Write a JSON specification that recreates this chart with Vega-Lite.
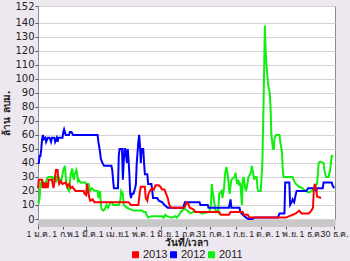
{
"$schema": "https://vega.github.io/schema/vega-lite/v6.json",
"width": 297, "height": 213,
"autosize": {"type": "none"},
"padding": {"left": 38, "top": 6, "right": 15, "bottom": 42},
"background": "#EDE8EF",
"config": {"view": {"fill": "white", "stroke": "#8a8a8a", "strokeWidth": 1}, "font": "DejaVu Sans"},
"datasets": {
"s2012": [
{"date":"2013-01-01","value":40},{"date":"2013-01-02","value":40},{"date":"2013-01-03","value":45},{"date":"2013-01-04","value":45},{"date":"2013-01-05","value":50},{"date":"2013-01-06","value":57},{"date":"2013-01-07","value":60},{"date":"2013-01-08","value":57},{"date":"2013-01-10","value":58},{"date":"2013-01-11","value":55},{"date":"2013-01-13","value":58},{"date":"2013-01-15","value":58},{"date":"2013-01-17","value":55},{"date":"2013-01-18","value":58},{"date":"2013-01-21","value":58},{"date":"2013-01-22","value":55},{"date":"2013-01-24","value":58},{"date":"2013-01-25","value":55},{"date":"2013-01-26","value":58},{"date":"2013-01-31","value":58},{"date":"2013-02-01","value":62},{"date":"2013-02-02","value":64},{"date":"2013-02-04","value":60},{"date":"2013-02-08","value":60},{"date":"2013-02-09","value":62},{"date":"2013-02-11","value":62},{"date":"2013-02-13","value":60},{"date":"2013-03-15","value":60},{"date":"2013-03-16","value":55},{"date":"2013-03-18","value":48},{"date":"2013-03-19","value":43},{"date":"2013-03-21","value":40},{"date":"2013-03-23","value":38},{"date":"2013-04-01","value":38},{"date":"2013-04-02","value":35},{"date":"2013-04-03","value":28},{"date":"2013-04-04","value":22},{"date":"2013-04-09","value":22},{"date":"2013-04-10","value":45},{"date":"2013-04-11","value":50},{"date":"2013-04-14","value":50},{"date":"2013-04-15","value":28},{"date":"2013-04-16","value":40},{"date":"2013-04-17","value":50},{"date":"2013-04-18","value":50},{"date":"2013-04-20","value":40},{"date":"2013-04-21","value":50},{"date":"2013-04-22","value":42},{"date":"2013-04-23","value":32},{"date":"2013-04-24","value":18},{"date":"2013-04-25","value":15},{"date":"2013-04-26","value":18},{"date":"2013-04-28","value":18},{"date":"2013-04-30","value":22},{"date":"2013-05-01","value":25},{"date":"2013-05-02","value":40},{"date":"2013-05-04","value":55},{"date":"2013-05-05","value":60},{"date":"2013-05-06","value":52},{"date":"2013-05-07","value":40},{"date":"2013-05-08","value":50},{"date":"2013-05-10","value":50},{"date":"2013-05-11","value":40},{"date":"2013-05-12","value":32},{"date":"2013-05-15","value":32},{"date":"2013-05-16","value":25},{"date":"2013-05-20","value":25},{"date":"2013-05-21","value":20},{"date":"2013-05-22","value":15},{"date":"2013-05-27","value":15},{"date":"2013-05-29","value":13},{"date":"2013-06-02","value":12},{"date":"2013-06-05","value":10},{"date":"2013-06-09","value":8},{"date":"2013-06-28","value":8},{"date":"2013-06-30","value":12},{"date":"2013-07-18","value":12},{"date":"2013-07-19","value":10},{"date":"2013-07-28","value":10},{"date":"2013-07-29","value":8},{"date":"2013-08-23","value":8},{"date":"2013-08-25","value":14},{"date":"2013-08-26","value":8},{"date":"2013-09-05","value":8},{"date":"2013-09-06","value":5},{"date":"2013-09-09","value":3},{"date":"2013-09-13","value":1},{"date":"2013-09-16","value":0},{"date":"2013-09-21","value":0},{"date":"2013-09-23","value":1},{"date":"2013-10-22","value":1},{"date":"2013-10-24","value":4},{"date":"2013-10-30","value":4},{"date":"2013-10-31","value":26},{"date":"2013-11-05","value":26},{"date":"2013-11-06","value":10},{"date":"2013-11-08","value":12},{"date":"2013-11-09","value":14},{"date":"2013-11-11","value":12},{"date":"2013-11-13","value":18},{"date":"2013-11-14","value":20},{"date":"2013-11-26","value":20},{"date":"2013-11-28","value":22},{"date":"2013-12-06","value":22},{"date":"2013-12-08","value":20},{"date":"2013-12-09","value":22},{"date":"2013-12-16","value":22},{"date":"2013-12-17","value":26},{"date":"2013-12-27","value":26},{"date":"2013-12-28","value":24},{"date":"2013-12-30","value":22}
],
"s2013": [
{"date":"2013-01-01","value":22},{"date":"2013-01-02","value":28},{"date":"2013-01-06","value":28},{"date":"2013-01-07","value":22},{"date":"2013-01-09","value":26},{"date":"2013-01-10","value":22},{"date":"2013-01-12","value":26},{"date":"2013-01-13","value":22},{"date":"2013-01-14","value":28},{"date":"2013-01-18","value":28},{"date":"2013-01-20","value":22},{"date":"2013-01-22","value":30},{"date":"2013-01-23","value":35},{"date":"2013-01-25","value":35},{"date":"2013-01-26","value":28},{"date":"2013-01-27","value":25},{"date":"2013-01-29","value":27},{"date":"2013-01-31","value":25},{"date":"2013-02-04","value":26},{"date":"2013-02-06","value":23},{"date":"2013-02-08","value":25},{"date":"2013-02-10","value":22},{"date":"2013-02-12","value":23},{"date":"2013-02-16","value":20},{"date":"2013-02-26","value":20},{"date":"2013-02-27","value":18},{"date":"2013-03-01","value":17},{"date":"2013-03-02","value":25},{"date":"2013-03-04","value":18},{"date":"2013-03-05","value":15},{"date":"2013-03-06","value":13},{"date":"2013-03-09","value":14},{"date":"2013-03-11","value":12},{"date":"2013-04-22","value":12},{"date":"2013-04-25","value":10},{"date":"2013-05-04","value":10},{"date":"2013-05-06","value":20},{"date":"2013-05-07","value":23},{"date":"2013-05-12","value":23},{"date":"2013-05-13","value":15},{"date":"2013-05-15","value":13},{"date":"2013-05-16","value":17},{"date":"2013-05-18","value":20},{"date":"2013-05-21","value":22},{"date":"2013-05-23","value":21},{"date":"2013-05-25","value":24},{"date":"2013-05-29","value":24},{"date":"2013-05-31","value":23},{"date":"2013-06-02","value":21},{"date":"2013-06-05","value":21},{"date":"2013-06-07","value":18},{"date":"2013-06-09","value":15},{"date":"2013-06-11","value":10},{"date":"2013-06-13","value":8},{"date":"2013-06-29","value":8},{"date":"2013-07-01","value":10},{"date":"2013-07-02","value":12},{"date":"2013-07-04","value":11},{"date":"2013-07-06","value":8},{"date":"2013-07-10","value":7},{"date":"2013-07-13","value":5},{"date":"2013-08-11","value":5},{"date":"2013-08-13","value":3},{"date":"2013-08-23","value":3},{"date":"2013-08-25","value":5},{"date":"2013-09-09","value":5},{"date":"2013-09-10","value":3},{"date":"2013-09-15","value":3},{"date":"2013-09-17","value":1},{"date":"2013-11-01","value":1},{"date":"2013-11-05","value":2},{"date":"2013-11-09","value":3},{"date":"2013-11-13","value":4},{"date":"2013-11-17","value":6},{"date":"2013-11-20","value":4},{"date":"2013-11-29","value":4},{"date":"2013-12-02","value":6},{"date":"2013-12-04","value":8},{"date":"2013-12-05","value":20},{"date":"2013-12-06","value":25},{"date":"2013-12-08","value":22},{"date":"2013-12-09","value":16},{"date":"2013-12-14","value":15}
],
"s2011": [
{"date":"2013-01-01","value":13},{"date":"2013-01-02","value":12},{"date":"2013-01-03","value":15},{"date":"2013-01-04","value":25},{"date":"2013-01-05","value":24},{"date":"2013-01-06","value":27},{"date":"2013-01-10","value":25},{"date":"2013-01-12","value":29},{"date":"2013-01-14","value":30},{"date":"2013-01-18","value":30},{"date":"2013-01-19","value":28},{"date":"2013-01-21","value":30},{"date":"2013-01-23","value":26},{"date":"2013-01-24","value":30},{"date":"2013-01-26","value":30},{"date":"2013-01-28","value":28},{"date":"2013-01-30","value":28},{"date":"2013-02-01","value":35},{"date":"2013-02-03","value":38},{"date":"2013-02-04","value":30},{"date":"2013-02-05","value":24},{"date":"2013-02-06","value":22},{"date":"2013-02-08","value":20},{"date":"2013-02-09","value":25},{"date":"2013-02-10","value":32},{"date":"2013-02-12","value":36},{"date":"2013-02-13","value":30},{"date":"2013-02-14","value":28},{"date":"2013-02-15","value":32},{"date":"2013-02-17","value":35},{"date":"2013-02-18","value":32},{"date":"2013-02-19","value":27},{"date":"2013-02-20","value":28},{"date":"2013-02-22","value":26},{"date":"2013-02-28","value":26},{"date":"2013-03-01","value":25},{"date":"2013-03-04","value":25},{"date":"2013-03-06","value":20},{"date":"2013-03-08","value":22},{"date":"2013-03-12","value":20},{"date":"2013-03-15","value":20},{"date":"2013-03-16","value":15},{"date":"2013-03-18","value":20},{"date":"2013-03-19","value":10},{"date":"2013-03-20","value":7},{"date":"2013-03-22","value":6},{"date":"2013-03-24","value":7},{"date":"2013-03-26","value":10},{"date":"2013-03-28","value":8},{"date":"2013-03-31","value":12},{"date":"2013-04-02","value":12},{"date":"2013-04-03","value":10},{"date":"2013-04-10","value":10},{"date":"2013-04-12","value":14},{"date":"2013-04-13","value":20},{"date":"2013-04-15","value":18},{"date":"2013-04-16","value":10},{"date":"2013-04-20","value":8},{"date":"2013-04-24","value":7},{"date":"2013-04-28","value":6},{"date":"2013-05-08","value":6},{"date":"2013-05-11","value":5},{"date":"2013-05-13","value":5},{"date":"2013-05-14","value":3},{"date":"2013-05-16","value":1},{"date":"2013-05-20","value":2},{"date":"2013-06-02","value":2},{"date":"2013-06-04","value":1},{"date":"2013-06-06","value":3},{"date":"2013-06-08","value":2},{"date":"2013-06-14","value":1},{"date":"2013-06-18","value":2},{"date":"2013-06-20","value":1},{"date":"2013-06-23","value":3},{"date":"2013-06-25","value":5},{"date":"2013-06-27","value":6},{"date":"2013-06-29","value":9},{"date":"2013-06-30","value":7},{"date":"2013-07-03","value":6},{"date":"2013-07-07","value":4},{"date":"2013-07-10","value":5},{"date":"2013-07-17","value":5},{"date":"2013-07-21","value":4},{"date":"2013-07-30","value":5},{"date":"2013-08-01","value":10},{"date":"2013-08-02","value":25},{"date":"2013-08-03","value":20},{"date":"2013-08-05","value":12},{"date":"2013-08-06","value":8},{"date":"2013-08-07","value":5},{"date":"2013-08-09","value":6},{"date":"2013-08-10","value":5},{"date":"2013-08-11","value":18},{"date":"2013-08-14","value":20},{"date":"2013-08-15","value":15},{"date":"2013-08-17","value":22},{"date":"2013-08-18","value":30},{"date":"2013-08-19","value":35},{"date":"2013-08-20","value":37},{"date":"2013-08-22","value":30},{"date":"2013-08-23","value":22},{"date":"2013-08-24","value":18},{"date":"2013-08-25","value":24},{"date":"2013-08-26","value":28},{"date":"2013-08-30","value":30},{"date":"2013-08-31","value":33},{"date":"2013-09-02","value":25},{"date":"2013-09-03","value":28},{"date":"2013-09-04","value":24},{"date":"2013-09-05","value":26},{"date":"2013-09-06","value":25},{"date":"2013-09-08","value":10},{"date":"2013-09-09","value":28},{"date":"2013-09-10","value":30},{"date":"2013-09-12","value":22},{"date":"2013-09-13","value":20},{"date":"2013-09-14","value":23},{"date":"2013-09-16","value":30},{"date":"2013-09-19","value":33},{"date":"2013-09-20","value":38},{"date":"2013-09-21","value":35},{"date":"2013-09-23","value":28},{"date":"2013-09-24","value":30},{"date":"2013-09-26","value":30},{"date":"2013-09-27","value":22},{"date":"2013-09-28","value":20},{"date":"2013-10-01","value":20},{"date":"2013-10-02","value":30},{"date":"2013-10-03","value":40},{"date":"2013-10-04","value":70},{"date":"2013-10-05","value":100},{"date":"2013-10-06","value":138},{"date":"2013-10-07","value":120},{"date":"2013-10-08","value":110},{"date":"2013-10-10","value":96},{"date":"2013-10-11","value":93},{"date":"2013-10-12","value":90},{"date":"2013-10-13","value":80},{"date":"2013-10-14","value":60},{"date":"2013-10-16","value":50},{"date":"2013-10-17","value":50},{"date":"2013-10-18","value":58},{"date":"2013-10-20","value":60},{"date":"2013-10-24","value":60},{"date":"2013-10-25","value":55},{"date":"2013-10-27","value":48},{"date":"2013-10-28","value":35},{"date":"2013-10-29","value":30},{"date":"2013-11-09","value":30},{"date":"2013-11-11","value":27},{"date":"2013-11-13","value":25},{"date":"2013-11-17","value":23},{"date":"2013-11-21","value":22},{"date":"2013-11-25","value":20},{"date":"2013-11-29","value":19},{"date":"2013-12-03","value":20},{"date":"2013-12-05","value":22},{"date":"2013-12-09","value":25},{"date":"2013-12-11","value":40},{"date":"2013-12-13","value":41},{"date":"2013-12-17","value":40},{"date":"2013-12-18","value":35},{"date":"2013-12-20","value":30},{"date":"2013-12-23","value":30},{"date":"2013-12-25","value":35},{"date":"2013-12-27","value":45},{"date":"2013-12-29","value":45}
]
},
"layer": [
{"data": {"name": "s2011"}, "transform": [{"calculate": "'2011'", "as": "series"}], "mark": {"type": "line", "strokeWidth": 2}, "encoding": {}},
{"data": {"name": "s2012"}, "transform": [{"calculate": "'2012'", "as": "series"}], "mark": {"type": "line", "strokeWidth": 2}, "encoding": {}},
{"data": {"name": "s2013"}, "transform": [{"calculate": "'2013'", "as": "series"}], "mark": {"type": "line", "strokeWidth": 2}, "encoding": {}}
],
"encoding": {
"x": {"field": "date", "type": "temporal",
 "scale": {"type": "utc", "domain": [{"year": 2013, "month": 1, "date": 1, "utc": true}, {"year": 2013, "month": 12, "date": 31, "utc": true}]},
 "axis": {"title": "วันที่/เวลา", "titleFontSize": 10, "titleFontWeight": "bold", "titleColor": "#222", "titlePadding": 0,
  "values": [{"year":2013,"month":1,"date":1,"utc":true},{"year":2013,"month":2,"date":1,"utc":true},{"year":2013,"month":3,"date":1,"utc":true},{"year":2013,"month":4,"date":1,"utc":true},{"year":2013,"month":5,"date":1,"utc":true},{"year":2013,"month":6,"date":1,"utc":true},{"year":2013,"month":7,"date":1,"utc":true},{"year":2013,"month":7,"date":31,"utc":true},{"year":2013,"month":9,"date":1,"utc":true},{"year":2013,"month":10,"date":1,"utc":true},{"year":2013,"month":11,"date":1,"utc":true},{"year":2013,"month":12,"date":1,"utc":true},{"year":2013,"month":12,"date":30,"utc":true}],
  "labelExpr": "utcdate(datum.value) + ' ' + ['ม.ค.','ก.พ.','มี.ค.','เม.ย.','พ.ค.','มิ.ย.','ก.ค.','ส.ค.','ก.ย.','ต.ค.','พ.ย.','ธ.ค.'][utcmonth(datum.value)]",
  "labelOverlap": false, "labelFlush": false, "labelFont": "Liberation Sans", "labelFontSize": 8.8, "labelColor": "#222", "labelPadding": 0,
  "grid": false, "offset": 4, "domainWidth": 7, "domainColor": "#c8c8c8", "tickColor": "#555", "tickSize": 6}},
"y": {"field": "value", "type": "quantitative",
 "scale": {"domain": [0, 152], "nice": false},
 "axis": {"title": "ล้าน ลบม.", "titleFontSize": 10, "titleFontWeight": "bold", "titleColor": "#222", "titlePadding": 3,
  "values": [0,10,20,30,40,50,60,70,80,90,100,110,120,130,140,152],
  "labelFontSize": 10, "labelColor": "#222", "labelPadding": 1, "tickSize": 3, "tickColor": "#555",
  "grid": true, "gridColor": "#d4d4d4", "domain": false}},
"color": {"field": "series", "type": "nominal",
 "scale": {"domain": ["2013", "2012", "2011"], "range": ["#FF0000", "#0000FF", "#11EE11"]},
 "legend": {"orient": "none", "legendX": 92, "legendY": 243, "direction": "horizontal", "title": null, "symbolType": "square", "symbolSize": 36, "symbolStrokeColor": "#333", "symbolStrokeWidth": 1, "labelFont": "Liberation Sans", "labelFontSize": 11, "labelColor": "#222", "columnPadding": 0, "labelOffset": 2,
  "encode": {"symbols": {"update": {"fill": {"scale": "color", "field": "value"}, "fillOpacity": {"value": 1}}}}}}
}
}
